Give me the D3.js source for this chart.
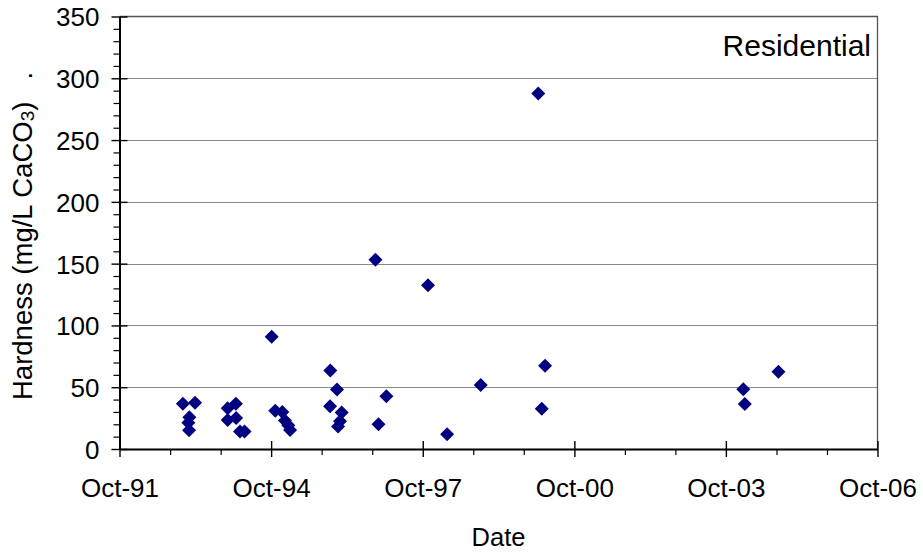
<!DOCTYPE html>
<html>
<head>
<meta charset="utf-8">
<script src="https://cdn.jsdelivr.net/npm/d3@7"></script>
<style>
  html, body { margin: 0; padding: 0; background: #fff; }
  svg { display: block; font-family: "Liberation Sans", Arial, sans-serif; }
</style>
</head>
<body>
<svg id="chart" width="923" height="554"></svg>
<script>
// Sample dates and measured hardness (mg/L as CaCO3)
const sampleDates = [
  "1993-01-01", "1993-03-30", "1993-02-17", "1993-02-10", "1993-02-15",
  "1993-11-21", "1994-01-19", "1993-11-21", "1994-01-21", "1994-02-18", "1994-03-23",
  "1994-10-05", "1994-10-31", "1994-12-21", "1995-01-09", "1995-02-02", "1995-02-15",
  "1995-12-03", "1996-01-20", "1995-12-01", "1996-02-23", "1996-02-11", "1996-01-28",
  "1996-10-24", "1996-11-15", "1997-01-11",
  "1997-11-08", "1998-03-26", "1998-11-24",
  "2000-01-14", "2000-02-08", "2000-03-03",
  "2004-02-04", "2004-02-15", "2004-10-15"
];
const hardness = [
  36.7, 37.5, 25.7, 21.2, 15.2,
  32.9, 36.6, 23.5, 25.0, 14.2, 14.2,
  90.9, 30.9, 29.9, 23.0, 19.2, 15.3,
  63.6, 48.2, 34.5, 29.5, 22.5, 18.2,
  153.2, 20.0, 42.7,
  132.5, 11.9, 51.8,
  287.6, 32.6, 67.4,
  48.3, 36.4, 62.6
];

// Axis settings
const xDomain = ["1991-10-01", "2006-10-01"];
const xMajorTicks = ["1991-10-01", "1994-10-01", "1997-10-01", "2000-10-01", "2003-10-01", "2006-10-01"];
const yMax = 350;
const yMajorTicks = [0, 50, 100, 150, 200, 250, 300, 350];
const panelLabel = "Residential";
const xTitle = "Date";

const parse = d3.timeParse("%Y-%m-%d");
const svg = d3.select("#chart");

const plot = { left: 119.5, right: 877.5, top: 16.5, bottom: 449 };

const x = d3.scaleTime().domain(xDomain.map(parse)).range([plot.left, plot.right]);
const y = d3.scaleLinear().domain([0, yMax]).range([plot.bottom, plot.top]);

// Horizontal gridlines
svg.append("g")
  .selectAll("line")
  .data(yMajorTicks.filter(v => v > 0 && v < yMax))
  .join("line")
  .attr("x1", plot.left).attr("x2", plot.right)
  .attr("y1", d => Math.round(y(d)) + 0.5).attr("y2", d => Math.round(y(d)) + 0.5)
  .attr("stroke", "#8a8a8a").attr("stroke-width", 1);

// Plot frame (top and right edges)
svg.append("path")
  .attr("d", `M${plot.left},${plot.top}H${plot.right}V${plot.bottom}`)
  .attr("fill", "none").attr("stroke", "#555").attr("stroke-width", 1.3);

// Y axis: minor ticks outside every 10, major ticks crossing the axis
const yMinor = d3.range(0, yMax + 1, 10).filter(v => v % 50 !== 0);
svg.append("g").attr("transform", `translate(${plot.left},0)`)
  .call(d3.axisLeft(y).tickValues(yMinor).tickSize(6).tickFormat(""))
  .call(g => g.select(".domain").remove())
  .call(g => g.selectAll("line").attr("stroke", "#000").attr("stroke-width", 1.2));

const yAxisG = svg.append("g").attr("transform", `translate(${plot.left},0)`)
  .call(d3.axisLeft(y).tickValues(yMajorTicks).tickSizeInner(8).tickSizeOuter(0).tickPadding(12))
  .call(g => g.select(".domain").attr("stroke", "#000").attr("stroke-width", 2));
yAxisG.selectAll(".tick line").attr("x1", 8).attr("stroke", "#000").attr("stroke-width", 1.4);
yAxisG.selectAll(".tick text")
  .attr("font-size", 26).attr("fill", "#000")
  .attr("font-family", "Liberation Sans, Arial, sans-serif")
  .attr("dy", "0.36em");

// X axis: yearly minor ticks below, three-year major ticks crossing the axis
const fmt = d3.timeFormat("%b-%y");
const minorDates = d3.timeYear.range(parse("1991-01-01"), parse("2007-01-01"))
  .map(d => d3.timeMonth.offset(d, 9))
  .filter(d => d >= parse(xDomain[0]) && d <= parse(xDomain[1]) && (d.getFullYear() - 1991) % 3 !== 0);

svg.append("g").attr("transform", `translate(0,${plot.bottom})`)
  .call(d3.axisBottom(x).tickValues(minorDates).tickSize(6).tickFormat(""))
  .call(g => g.select(".domain").remove())
  .call(g => g.selectAll("line").attr("stroke", "#000").attr("stroke-width", 1.2));

const xAxisG = svg.append("g").attr("transform", `translate(0,${plot.bottom})`)
  .call(d3.axisBottom(x).tickValues(xMajorTicks.map(parse)).tickFormat(fmt)
    .tickSizeInner(8).tickSizeOuter(0).tickPadding(22))
  .call(g => g.select(".domain").attr("stroke", "#000").attr("stroke-width", 2));
xAxisG.selectAll(".tick line").attr("y1", -8).attr("stroke", "#000").attr("stroke-width", 1.4);
xAxisG.selectAll(".tick text")
  .attr("font-size", 26).attr("fill", "#000")
  .attr("font-family", "Liberation Sans, Arial, sans-serif");

// Data points as diamonds
const diamond = d3.symbol().type(d3.symbolDiamond2).size(125);
svg.append("g")
  .selectAll("path")
  .data(sampleDates.map((d, i) => ({ date: parse(d), value: hardness[i] })))
  .join("path")
  .attr("d", diamond)
  .attr("transform", d => `translate(${x(d.date)},${y(d.value)})`)
  .attr("fill", "#000080");

// Panel label
svg.append("text")
  .attr("x", 871).attr("y", 56)
  .attr("text-anchor", "end")
  .attr("font-size", 30)
  .attr("fill", "#000")
  .text(panelLabel);

// Axis titles
svg.append("text")
  .attr("x", (plot.left + plot.right) / 2).attr("y", 546)
  .attr("text-anchor", "middle")
  .attr("font-size", 25.5)
  .attr("fill", "#000")
  .text(xTitle);

const yTitle = svg.append("text")
  .attr("transform", "translate(32,400) rotate(-90)")
  .attr("text-anchor", "start")
  .attr("font-size", 27.5)
  .attr("fill", "#000");
yTitle.append("tspan").text("Hardness (mg/L CaCO");
yTitle.append("tspan").attr("font-size", 19).attr("dy", 2).text("3");
yTitle.append("tspan").attr("dy", -2).text(")");
yTitle.append("tspan").attr("dx", 22).text(".");
</script>
</body>
</html>
